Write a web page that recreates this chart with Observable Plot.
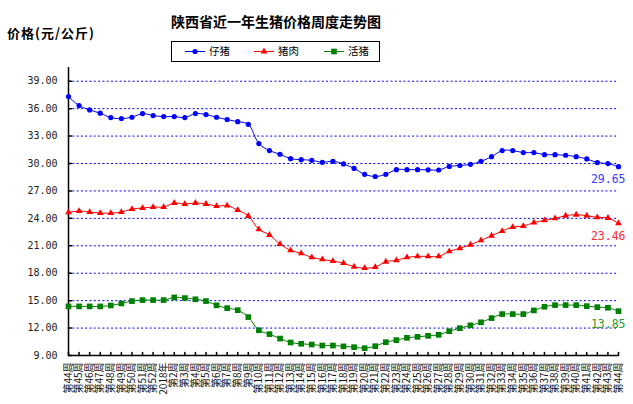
<!DOCTYPE html>
<html><head><meta charset="utf-8">
<script src="https://cdn.jsdelivr.net/npm/d3@7"></script>
<script src="https://cdn.jsdelivr.net/npm/@observablehq/plot@0.6"></script>
<style>
body{margin:0;background:#fff;}
#wrap{position:relative;width:633px;height:404px;overflow:hidden;background:#fff;font-family:"Noto Sans CJK SC",sans-serif;color:#000;}
#chart{position:absolute;left:0;top:0;}
#title{position:absolute;left:0;width:552px;top:13px;text-align:center;font-size:14px;line-height:16px;font-weight:bold;}
#ylab{position:absolute;left:7px;top:25px;font-size:13px;line-height:15px;font-weight:bold;letter-spacing:1px;}
#legend{position:absolute;left:171px;top:41px;width:209px;height:21px;box-sizing:border-box;border:1px solid #000;background:#fff;}
#legend svg{position:absolute;left:-1px;top:-1px;}
</style>
</head><body>
<div id="wrap">
  <div id="chart"></div>
  <div id="title">陕西省近一年生猪价格周度走势图</div>
  <div id="ylab">价格(元/公斤)</div>
  <div id="legend"></div>
</div>
<script>
const weeks = ["第44周","第45周","第46周","第47周","第48周","第49周","第50周","第51周","第52周","2018年",
  "第2周","第3周","第4周","第5周","第6周","第7周","第8周","第9周","第10周","第11周",
  "第12周","第13周","第14周","第15周","第16周","第17周","第18周","第19周","第20周","第21周",
  "第22周","第23周","第24周","第25周","第26周","第27周","第28周","第29周","第30周","第31周",
  "第32周","第33周","第34周","第35周","第36周","第37周","第38周","第39周","第40周","第41周",
  "第42周","第43周","第44周"];

const seriesNames = ["仔猪","猪肉","活猪"];
const seriesColors = ["#0000ff","#ff0000","#008000"];
const labelColors = ["#3a3aff","#ff2a2a","#2a9a2a"];
const seriesSymbols = ["circle","triangle","square"];

const piglet = [37.32,36.34,35.86,35.50,35.02,34.91,35.06,35.46,35.24,35.13,
  35.13,35.02,35.46,35.35,35.06,34.80,34.58,34.29,32.18,31.41,
  31.01,30.53,30.42,30.35,30.13,30.24,29.95,29.46,28.82,28.58,
  28.82,29.33,29.33,29.33,29.31,29.29,29.68,29.78,29.91,30.24,
  30.75,31.41,31.41,31.19,31.19,30.97,30.97,30.90,30.75,30.50,
  30.10,29.99,29.65];
const pork = [24.66,24.80,24.69,24.58,24.58,24.69,25.02,25.13,25.24,25.24,
  25.68,25.57,25.68,25.57,25.35,25.39,24.91,24.26,22.80,22.18,
  21.19,20.50,20.17,19.73,19.51,19.33,19.11,18.71,18.56,18.67,
  19.26,19.40,19.73,19.84,19.84,19.84,20.39,20.72,21.12,21.59,
  22.10,22.61,23.05,23.16,23.53,23.78,24.00,24.29,24.40,24.29,
  24.11,24.04,23.46];
const hog = [14.37,14.37,14.37,14.37,14.47,14.69,14.95,15.06,15.06,15.06,
  15.35,15.28,15.15,14.95,14.49,14.18,13.96,13.20,11.76,11.34,
  10.85,10.42,10.28,10.20,10.09,10.09,10.00,9.91,9.80,10.02,
  10.46,10.68,10.93,11.04,11.15,11.26,11.66,11.99,12.30,12.63,
  13.09,13.53,13.53,13.53,13.93,14.33,14.51,14.51,14.51,14.40,
  14.29,14.22,13.85];

const yTicks = [9,12,15,18,21,24,27,30,33,36,39];
const gridTicks = [12,15,18,21,24,27,30,33,36,39];

const seriesValues = [piglet, pork, hog];
const idx = weeks.map((_, i) => i);
const tickShape = {draw(ctx, l) { ctx.moveTo(0, 0); ctx.lineTo(0, -l); }};
const dotR = [2.6, 2.5, 3.2];

const marks = [
  Plot.gridY(gridTicks, {stroke: "#0000ff", strokeOpacity: 1, strokeWidth: 1, strokeDasharray: "2,2.3"}),
  Plot.ruleX([0], {stroke: "#000", strokeWidth: 1.5}),
  Plot.ruleY([9], {stroke: "#000", strokeWidth: 1.5}),
  Plot.vector(yTicks, {x: 0, y: d => d, rotate: 90, length: 3, anchor: "start", shape: tickShape, stroke: "#000"}),
  Plot.vector(idx, {x: d => d, y: 9, rotate: 0, length: 3, anchor: "start", shape: tickShape, stroke: "#000"}),
  Plot.axisY(yTicks, {tickSize: 0, tickPadding: 11, tickFormat: d => d.toFixed(2), fontFamily: "DejaVu Sans Mono", fontSize: 10, fill: "#222", label: null}),
  Plot.axisX(idx, {tickSize: 0, tickPadding: 7, tickRotate: -90, tickFormat: i => weeks[i], fontFamily: "Noto Sans CJK SC", fontSize: 10, fill: "#111", label: null})
];

seriesValues.forEach((vals, s) => {
  const rows = vals.map((v, i) => ({i, v}));
  marks.push(Plot.line(rows, {x: "i", y: "v", stroke: seriesColors[s], strokeWidth: 1, curve: "catmull-rom"}));
  marks.push(Plot.dot(rows, {x: "i", y: "v", symbol: seriesSymbols[s], fill: seriesColors[s], stroke: "none", r: dotR[s]}));
  marks.push(Plot.text(rows, Plot.selectLast({x: "i", y: "v", text: d => d.v.toFixed(2), fill: labelColors[s], dx: 7, dy: 13, textAnchor: "end", fontFamily: "DejaVu Sans Mono", fontSize: 11.5})));
});

const chart = Plot.plot({
  width: 633, height: 404,
  marginLeft: 68, marginRight: 15, marginTop: 67, marginBottom: 49,
  x: {type: "linear", domain: [0, 52]},
  y: {domain: [9, 40.5]},
  style: {background: "#fff", overflow: "visible"},
  marks
});
document.getElementById("chart").appendChild(chart);

// legend
const lg = d3.select("#legend").append("svg").attr("width", 209).attr("height", 21);
const itemX = [185, 254, 324];
seriesNames.forEach((name, s) => {
  const x0 = itemX[s] - 171;
  lg.append("line").attr("x1", x0).attr("x2", x0 + 20).attr("y1", 10.5).attr("y2", 10.5).attr("stroke", seriesColors[s]).attr("stroke-width", 1);
  lg.append("path").attr("transform", `translate(${x0 + 10},10.5)`)
    .attr("d", d3.symbol(s === 0 ? d3.symbolCircle : s === 1 ? d3.symbolTriangle : d3.symbolSquare, Math.PI * dotR[s] * dotR[s])())
    .attr("fill", seriesColors[s]);
  lg.append("text").attr("x", x0 + 24).attr("y", 10.5).attr("dy", "0.35em")
    .attr("font-size", 10.5).attr("font-family", "Noto Sans CJK SC").attr("fill", "#000").text(name);
});
</script>
</body></html>
